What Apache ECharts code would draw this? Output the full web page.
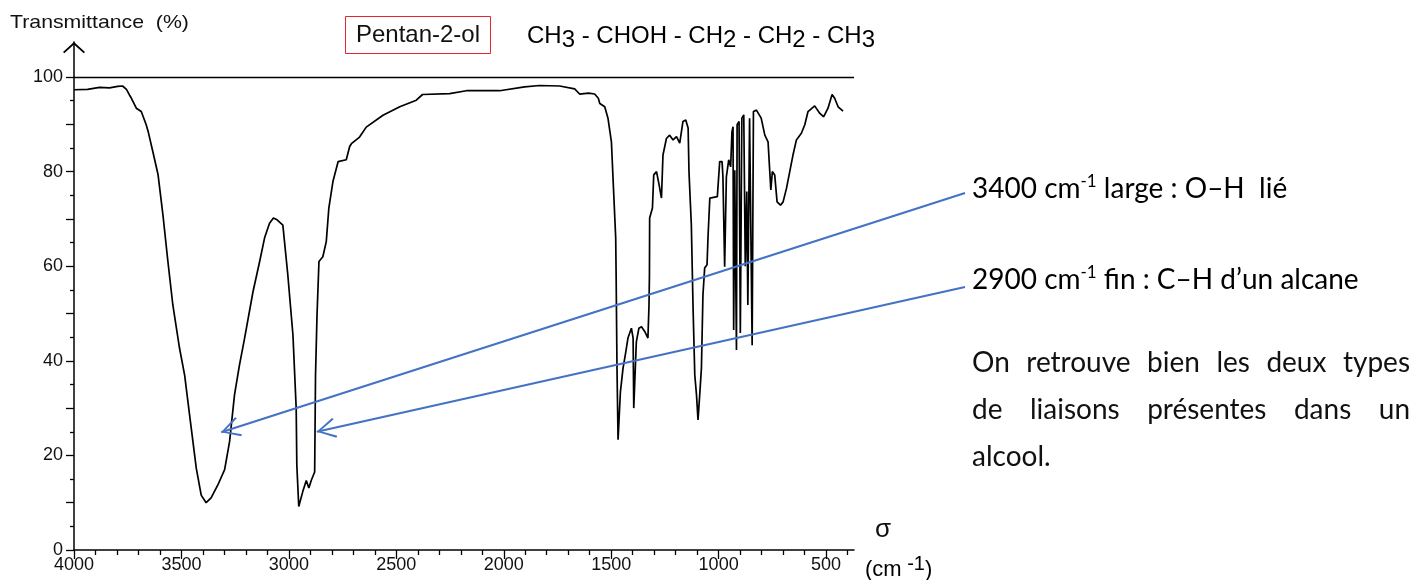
<!DOCTYPE html>
<html>
<head>
<meta charset="utf-8">
<script src="https://cdn.jsdelivr.net/npm/echarts@6/dist/echarts.min.js"></script>
<style>
html, body { margin: 0; padding: 0; background: #fff; }
#main { width: 1425px; height: 580px; }
</style>
</head>
<body>
<div id="main"></div>
<script>
// IR spectrum of pentan-2-ol
const sigma = [
	4000, 3937, 3881, 3835, 3797, 3774, 3756, 3742, 3734, 3710, 3687, 3664, 3655, 3633, 3609, 3586,
	3563, 3540, 3509, 3485, 3462, 3431, 3408, 3385, 3362, 3330, 3299, 3276, 3253, 3230, 3206, 3167,
	3136, 3113, 3090, 3072, 3055, 3028, 3005, 2981, 2966, 2963, 2954, 2935, 2919, 2907, 2896, 2880,
	2876, 2869, 2860, 2842, 2826, 2814, 2795, 2771, 2733, 2717, 2709, 2671, 2640, 2562, 2484, 2407,
	2378, 2252, 2174, 2019, 1903, 1833, 1740, 1670, 1647, 1605, 1577, 1560,
	1553, 1530, 1515, 1499, 1488, 1479, 1477, 1473, 1468, 1457, 1445, 1432, 1422, 1406, 1398, 1395,
	1386, 1383, 1371, 1359, 1344, 1329, 1324, 1322, 1321, 1308, 1302, 1289, 1277, 1266, 1259, 1243,
	1228, 1212, 1196, 1181, 1166, 1153, 1142, 1138, 1127, 1119, 1111, 1103, 1096, 1088, 1080, 1073,
	1065, 1054, 1049, 1041, 1006, 995, 984, 980, 972, 967, 964, 953, 944, 938, 933, 930,
	925, 917, 914, 905, 899, 892, 883, 876, 869, 864, 856, 844, 838, 824, 818, 802,
	785, 770, 762, 757, 750, 739, 728, 712, 700, 684, 669, 654, 638, 615, 599, 584,
	553, 529, 511, 491, 472, 460, 444, 421
];
const transmittance = [
	97.3, 97.4, 97.8, 97.7, 98.0, 98.1, 97.4, 96.2, 95.6, 93.4, 92.7, 89.9, 88.5, 84.2, 79.4, 70.8,
	61.0, 51.8, 42.7, 36.9, 28.5, 17.3, 11.6, 10.0, 11.0, 13.8, 17.0, 22.9, 32.8, 39.1, 44.8, 54.6,
	61.0, 66.0, 69.1, 70.2, 69.8, 68.7, 58.2, 45.4, 30.0, 17.9, 9.2, 12.4, 14.7, 13.1, 14.7, 16.5,
	36.9, 49.7, 61.0, 62.0, 65.2, 72.3, 77.9, 82.1, 82.5, 85.3, 85.9, 87.3, 89.4, 91.9, 93.7, 95.1,
	96.3, 96.5, 97.1, 97.1, 97.9, 98.2, 98.1, 97.5, 96.4, 96.6, 96.4, 95.5,
	94.4, 93.7, 91.3, 86.3, 75.1, 66.0, 58.1, 38.5, 23.3, 33.5, 38.4, 41.9, 44.8, 46.9, 44.8, 30.0,
	30.3, 44.0, 46.9, 47.2, 46.2, 44.8, 51.8, 58.1, 70.2, 72.3, 79.3, 80.0, 77.2, 74.4, 83.5, 87.0,
	87.7, 86.7, 87.4, 86.0, 90.6, 90.9, 89.2, 80.0, 68.7, 51.2, 37.0, 32.8, 27.5, 32.8, 38.5, 53.9,
	59.6, 60.3, 66.6, 74.4, 74.7, 82.1, 82.1, 78.9, 59.9, 59.9, 78.9, 82.5, 81.0, 88.4, 89.5, 46.5,
	80.3, 42.3, 89.9, 90.6, 45.9, 91.3, 92.0, 60.0, 75.8, 51.8, 91.3, 43.3, 92.7, 93.0, 93.0, 91.3,
	87.7, 86.3, 80.0, 76.1, 80.0, 79.3, 73.6, 72.9, 73.6, 76.5, 80.0, 83.5, 86.7, 88.1, 89.9, 92.7,
	93.9, 92.3, 91.6, 93.4, 96.3, 95.5, 93.7, 92.8
];

const xLabels = [500, 1000, 1500, 2000, 2500, 3000, 3500, 4000];
const xSmallTicks = [400, 600, 700, 800, 900, 1100, 1200, 1300, 1400, 1600, 1700, 1800, 1900,
	2100, 2200, 2300, 2400, 2600, 2700, 2800, 2900, 3100, 3200, 3300, 3400, 3600, 3700, 3800, 3900];
const yLabels = [0, 20, 40, 60, 80, 100];
const yTicks = [0, 10, 20, 30, 40, 50, 60, 70, 80, 90, 100];
const ySmallTicks = [5, 15, 25, 35, 45, 55, 65, 75, 85, 95];

// where the two blue arrows point (cm-1, %)
const arrowTips = [[3315, 24.9], [2870, 25.0]];

const paragraph = [
	'On retrouve bien les deux types',
	'de liaisons présentes dans un',
	'alcool.'
];

const AXIS_FONT = 'Liberation Sans, Arial, sans-serif';
const NOTE_FONT = 'Lato, Carlito, sans-serif';
const INK = '#111';
const BLUE = '#4472c4';

const chevron = 'path://M10,19 L20,37 L18.4,38.4 L10,22.6 L1.6,38.4 L0,37 Z M10,0 L10.2,0 L10,0.2 Z';
const axisArrow = 'path://M11,0 L22,10 L20.7,11.3 L11,2.6 L1.3,11.3 L0,10 Z';

const myChart = echarts.init(document.getElementById('main'), null, { renderer: 'canvas' });

// justified paragraph, one text element per word
const measure = document.createElement('canvas').getContext('2d');
function wordsOf(line, x0, x1, y, last) {
	measure.font = '28px ' + NOTE_FONT;
	const words = line.split(' ');
	const widths = words.map(w => measure.measureText(w).width);
	const used = widths.reduce((a, b) => a + b, 0);
	const gap = last ? measure.measureText(' ').width : (x1 - x0 - used) / (words.length - 1);
	const out = [];
	let x = x0;
	words.forEach((w, i) => {
		out.push({
			type: 'text', x: x, y: y, silent: true,
			style: { text: w, fontSize: 28, fontFamily: NOTE_FONT, fill: INK, verticalAlign: 'middle', textVerticalAlign: 'middle' }
		});
		x += widths[i] + gap;
	});
	return out;
}

const notesRich = {
	n: { fontSize: 28, fontFamily: NOTE_FONT, color: INK, lineHeight: 34 },
	s: { fontSize: 17, fontFamily: NOTE_FONT, color: INK, padding: [0, 0, 14, 0] }
};
const formulaRich = {
	n: { fontSize: 24, fontFamily: AXIS_FONT, color: INK, lineHeight: 28 },
	b: { fontSize: 24, fontFamily: AXIS_FONT, color: INK, padding: [8, 0, 0, 0] }
};

const graphics = [
	{
		type: 'text', left: 10, top: 13, silent: true, scaleX: 1.12,
		style: { text: 'Transmittance  (%)', fontSize: 19, fontFamily: AXIS_FONT, fill: INK }
	},
	{
		type: 'rect', shape: { x: 345.5, y: 16.5, width: 145, height: 37 }, silent: true,
		style: { fill: 'none', stroke: '#e3262e', lineWidth: 1 }
	},
	{
		type: 'text', x: 418, y: 35, silent: true,
		style: { text: 'Pentan-2-ol', fontSize: 24, fontFamily: AXIS_FONT, fill: INK, align: 'center', verticalAlign: 'middle', textAlign: 'center', textVerticalAlign: 'middle' }
	},
	{
		type: 'text', x: 527, y: 36, silent: true,
		style: {
			text: '{n|CH}{b|3}{n| - CHOH - CH}{b|2}{n| - CH}{b|2}{n| - CH}{b|3}',
			rich: formulaRich, verticalAlign: 'middle', textVerticalAlign: 'middle'
		}
	},
	{
		type: 'text', x: 883, y: 530, silent: true,
		style: { text: 'σ', fontSize: 26, fontFamily: AXIS_FONT, fill: INK, align: 'center', verticalAlign: 'middle', textAlign: 'center', textVerticalAlign: 'middle' }
	},
	{
		type: 'text', x: 865, y: 570, silent: true,
		style: {
			text: '{n|(cm}{s| -1}{n|)}',
			rich: {
				n: { fontSize: 22, fontFamily: AXIS_FONT, color: '#2a2440', lineHeight: 26 },
				s: { fontSize: 20, fontFamily: AXIS_FONT, color: '#2a2440', padding: [0, 0, 11, 0] }
			},
			verticalAlign: 'middle', textVerticalAlign: 'middle'
		}
	},
	{
		type: 'text', x: 972, y: 189, silent: true,
		style: { text: '{n|3400 cm}{s|-1}{n| large : O–H  lié}', rich: notesRich, verticalAlign: 'middle', textVerticalAlign: 'middle' }
	},
	{
		type: 'text', x: 972, y: 280, silent: true,
		style: { text: '{n|2900 cm}{s|-1}{n| fin : C–H d’un alcane}', rich: notesRich, verticalAlign: 'middle', textVerticalAlign: 'middle' }
	}
];
const lineY = [363, 410, 457];
paragraph.forEach((line, i) => {
	graphics.push(...wordsOf(line, 972, 1410, lineY[i], i === paragraph.length - 1));
});

const option = {
	animation: false,
	grid: { left: 74, right: 571, top: 42, bottom: 30 },
	xAxis: [
		{
			type: 'value', min: 370, max: 4000, inverse: true,
			splitLine: { show: false },
			axisLine: { onZero: false, lineStyle: { color: '#000', width: 1.5 } },
			axisTick: { customValues: xSmallTicks, length: 5, lineStyle: { color: '#000', width: 1.3 } },
			axisLabel: {
				customValues: xLabels, margin: 6, fontSize: 18, fontFamily: AXIS_FONT, color: INK,
				formatter: v => String(v)
			}
		},
		{
			type: 'value', min: 370, max: 4000, inverse: true, position: 'bottom',
			splitLine: { show: false },
			axisLine: { show: false },
			axisTick: { customValues: xLabels, length: 9, lineStyle: { color: '#000', width: 1.3 } },
			axisLabel: { show: false }
		}
	],
	yAxis: [
		{
			type: 'value', min: 0, max: 107.4,
			splitLine: { show: false },
			axisLine: {
				show: true, onZero: false,
				symbol: ['none', axisArrow], symbolSize: [22, 11.3], symbolOffset: [0, -5.6],
				lineStyle: { color: '#000', width: 1.5 }
			},
			axisTick: { show: true, customValues: ySmallTicks, length: 4, lineStyle: { color: '#000', width: 1.3 } },
			axisLabel: {
				customValues: yLabels, margin: 11, fontSize: 18, fontFamily: AXIS_FONT, color: INK,
				formatter: v => String(v)
			}
		},
		{
			type: 'value', min: 0, max: 107.4, position: 'left',
			splitLine: { show: false },
			axisLine: { show: false },
			axisTick: { show: true, customValues: yTicks, length: 8, lineStyle: { color: '#000', width: 1.3 } },
			axisLabel: { show: false }
		}
	],
	series: [
		{
			name: 'spectre',
			type: 'line',
			data: sigma.map((s, i) => [s, transmittance[i]]),
			showSymbol: false,
			symbol: 'none',
			clip: false,
			lineStyle: { color: '#000', width: 1.7 },
			silent: true,
			markLine: {
				silent: true,
				symbol: ['none', chevron],
				symbolSize: [20, 38.4],
				label: { show: false },
				lineStyle: { color: BLUE, width: 2.2, type: 'solid' },
				data: [
					[{ x: 965, y: 193 }, { coord: arrowTips[0] }],
					[{ x: 965, y: 287 }, { coord: arrowTips[1] }]
				]
			}
		},
		{
			name: 'ref',
			type: 'line',
			data: [],
			silent: true,
			markLine: {
				silent: true,
				symbol: ['none', 'none'],
				label: { show: false },
				lineStyle: { color: '#000', width: 1.3, type: 'solid' },
				data: [{ yAxis: 100 }]
			}
		}
	],
	graphic: graphics
};

myChart.setOption(option);
</script>
</body>
</html>
